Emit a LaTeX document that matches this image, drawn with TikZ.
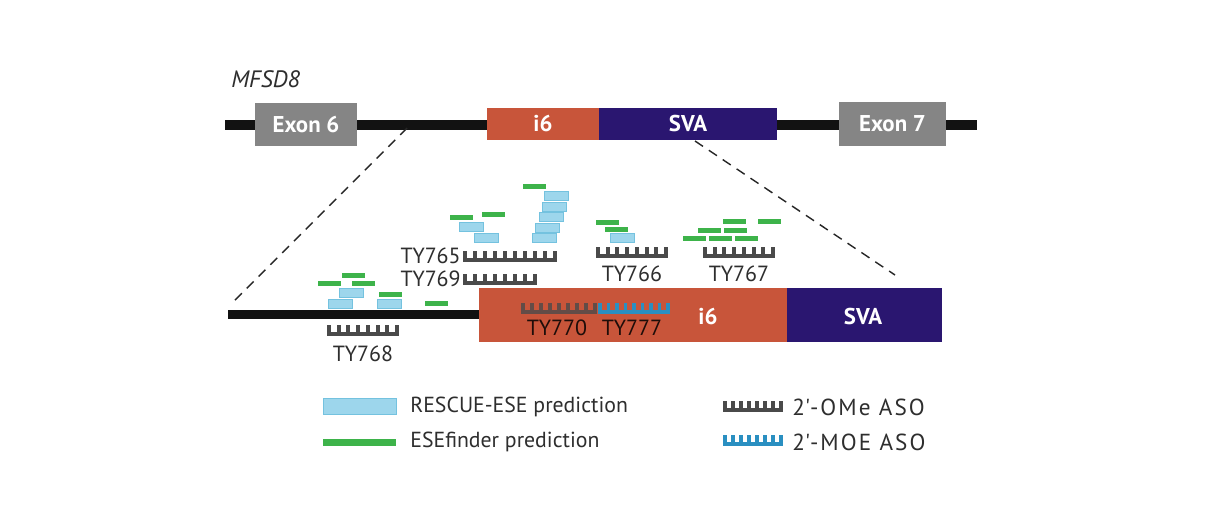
\documentclass[tikz,border=0pt]{standalone}
\usepackage{fontspec}
\setmainfont{PT Sans}
\definecolor{exongray}{HTML}{858585}
\definecolor{intron}{HTML}{C8553A}
\definecolor{svacol}{HTML}{2A1670}
\definecolor{esegreen}{HTML}{3DB34A}
\definecolor{rescuefill}{HTML}{9DD6EC}
\definecolor{rescueedge}{HTML}{74C2DF}
\definecolor{omegray}{HTML}{4A4A4A}
\definecolor{moeblue}{HTML}{2A8FC1}
\definecolor{labeltext}{HTML}{2E2E2E}
\newcommand{\asocomb}[5]{%
  \fill[#5] (#1,#3-3.8) rectangle (#2,#3);
  \foreach \k in {1,...,#4}{%
    \pgfmathsetmacro{\xx}{#1+(#2-#1-3.8)*(\k-1)/(#4-1)}
    \fill[#5] (\xx,#3-11.5) rectangle (\xx+3.8,#3-1);
  }}
\newcommand{\gbar}[2]{\fill[esegreen] (#1,#2) rectangle (#1+23,#2+5);}
\newcommand{\rbox}[2]{\filldraw[fill=rescuefill,draw=rescueedge,line width=0.4pt] (#1,#2) rectangle (#1+24,#2+9);}
\begin{document}
\begin{tikzpicture}[x=0.02cm,y=-0.02cm,
  exonbox/.style={rectangle,fill=exongray,inner sep=0pt,text=white,font=\bfseries\fontsize{13}{15}\selectfont},
  regbox/.style={rectangle,inner sep=0pt,text=white,font=\bfseries\fontsize{13}{15}\selectfont},
  asolabel/.style={inner sep=0pt,text=labeltext,font=\fontsize{12.5}{14}\selectfont},
  inlabel/.style={inner sep=0pt,text=black!85!intron,font=\fontsize{12.5}{14}\selectfont},
  legtext/.style={inner sep=0pt,anchor=west,text=labeltext,font=\fontsize{12.4}{14}\selectfont},
  legtextwide/.style={inner sep=0pt,anchor=west,text=labeltext,font=\fontsize{13.2}{14}\selectfont\addfontfeature{LetterSpace=9}},
  zoomline/.style={dashed,dash pattern=on 5.5pt off 4pt,line width=0.8pt,black!85}]
\fill[white] (0,0) rectangle (1207,514);
\useasboundingbox (0,0) rectangle (1207,514);

% ---- top gene ----
\node[inner sep=0pt,anchor=west,text=labeltext,font=\itshape\fontsize{13.5}{15}\selectfont] (gene) at (231,79) {MFSD8};
\fill[black!93] (225,119.5) rectangle (977,129.5);
\node[exonbox,minimum width=2.04cm,minimum height=0.86cm] (ex6) at (306,124.5) {Exon 6};
\node[regbox,fill=intron,minimum width=2.24cm,minimum height=0.64cm] (i6top) at (543,124) {i6};
\node[regbox,fill=svacol,minimum width=3.56cm,minimum height=0.64cm] (svatop) at (688,124) {SVA};
\node[exonbox,minimum width=2.14cm,minimum height=0.88cm] (ex7) at (892.5,124) {Exon 7};

% ---- zoom lines ----
\coordinate (zl1) at (407,128);
\coordinate (zl2) at (230,305);
\coordinate (zr1) at (695,141);
\coordinate (zr2) at (895,275);
\draw[zoomline] (zl1) -- (zl2);
\draw[zoomline] (zr1) -- (zr2);

% ---- bottom detail ----
\fill[black!93] (228,310) rectangle (481,319);
\node[regbox,fill=intron,minimum width=6.16cm,minimum height=1.08cm] (i6bot) at (633,315) {};
\node[regbox,fill=svacol,minimum width=3.1cm,minimum height=1.08cm] (svabot) at (864.5,315) {};
\node[regbox] (i6lab) at (708,316) {i6};
\node[regbox] (svalab) at (863,316) {SVA};

% ESE predictions near TY768
\gbar{318}{281}\gbar{342}{273}\gbar{352}{281}\gbar{379}{292}\gbar{425}{301}
\rbox{339}{288}\rbox{328}{299}\rbox{377}{299}
% near TY765
\gbar{450}{215}\gbar{482}{212}\gbar{523}{184}
\rbox{459}{222}\rbox{474}{233}
\rbox{544}{191}\rbox{542}{202}\rbox{539}{212.5}\rbox{535}{223}\rbox{532}{233}
% near TY766
\gbar{596}{220}\gbar{605}{227}\rbox{610}{233}
% near TY767
\gbar{723}{219}\gbar{758}{219}\gbar{698}{228}\gbar{724}{228}
\gbar{683}{236}\gbar{709}{236}\gbar{735}{236}

% ASOs
\asocomb{463}{557}{262}{10}{omegray}
\asocomb{463}{537}{285}{8}{omegray}
\asocomb{596}{668}{258}{8}{omegray}
\asocomb{703}{775}{258}{8}{omegray}
\asocomb{327}{399}{336}{8}{omegray}
\asocomb{521}{597}{314}{9}{omegray!80!intron}
\asocomb{598}{670}{314}{9}{moeblue}

\node[asolabel,anchor=east] (t765) at (461,256) {TY765};
\node[asolabel,anchor=east] (t769) at (461,279) {TY769};
\node[asolabel] (t766) at (632,274) {TY766};
\node[asolabel] (t767) at (739,274) {TY767};
\node[asolabel] (t768) at (363,354) {TY768};
\node[inlabel] (t770) at (557,328) {TY770};
\node[inlabel] (t777) at (632,328) {TY777};

% ---- legend ----
\filldraw[fill=rescuefill,draw=rescueedge,line width=0.4pt] (323,398) rectangle (396,414);
\fill[esegreen] (323,439) rectangle (396,446);
\node[legtext] (lg1) at (410,407) {RESCUE-ESE prediction};
\node[legtext] (lg2) at (410,442) {ESEfinder prediction};
\asocomb{723}{783}{412}{8}{omegray}
\asocomb{723}{783}{446}{8}{moeblue}
\node[legtextwide] (lg3) at (792,407) {2\textquotesingle-OMe ASO};
\node[legtextwide] (lg4) at (792,442) {2\textquotesingle-MOE ASO};
\end{tikzpicture}
\end{document}
